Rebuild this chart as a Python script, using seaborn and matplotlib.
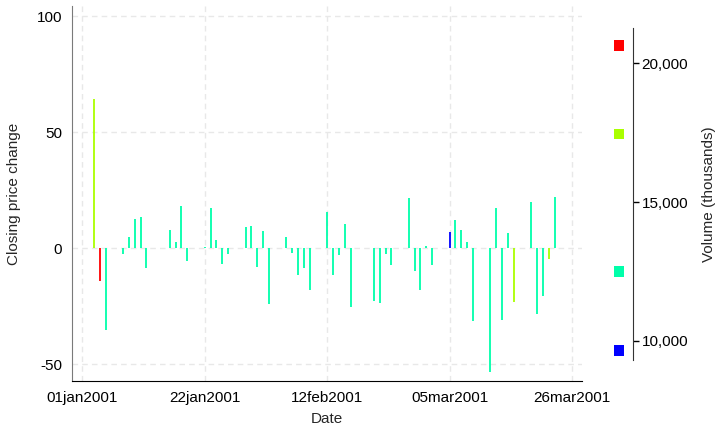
import matplotlib
matplotlib.use("Agg")
import matplotlib.pyplot as plt
import matplotlib.dates as mdates
from matplotlib.ticker import FuncFormatter
import numpy as np
import pandas as pd
import seaborn as sns

# ------------------------------------------------------------------
# data
# ------------------------------------------------------------------
dates = [
    "2001-01-03", "2001-01-04", "2001-01-05", "2001-01-08", "2001-01-09",
    "2001-01-10", "2001-01-11", "2001-01-12", "2001-01-16", "2001-01-17",
    "2001-01-18", "2001-01-19", "2001-01-22", "2001-01-23", "2001-01-24",
    "2001-01-25", "2001-01-26", "2001-01-29", "2001-01-30", "2001-01-31",
    "2001-02-01", "2001-02-02", "2001-02-05", "2001-02-06", "2001-02-07",
    "2001-02-08", "2001-02-09", "2001-02-12", "2001-02-13", "2001-02-14",
    "2001-02-15", "2001-02-16", "2001-02-20", "2001-02-21", "2001-02-22",
    "2001-02-23", "2001-02-26", "2001-02-27", "2001-02-28",
    "2001-03-01", "2001-03-02", "2001-03-05", "2001-03-06", "2001-03-07",
    "2001-03-08", "2001-03-09", "2001-03-12", "2001-03-13", "2001-03-14",
    "2001-03-15", "2001-03-16", "2001-03-19", "2001-03-20", "2001-03-21",
    "2001-03-22", "2001-03-23",
]
change = [
    64.3, -14.2, -35.0, -2.5, 4.9, 12.5, 13.5, -8.3, 7.9, 2.7,
    18.4, -5.5, 0.4, 17.4, 3.7, -6.9, -2.6, 9.2, 9.5, -7.9,
    7.5, -24.1, 4.7, -2.2, -11.5, -8.3, -17.9, 15.5, -11.5, -3.0,
    10.5, -25.1, -22.7, -23.7, -2.4, -7.2, 21.5, -9.8, -18.1,
    1.0, -7.2, 7.0, 12.2, 7.9, 2.7, -31.3, -53.1, 17.4, -31.0,
    6.6, -23.0, 20.1, -28.1, -20.4, -4.5, 22.0,
]
# volume (thousands), binned to the four legend levels
vol_levels = [9640, 12490, 17450, 20630]
vol_colors = ["#0000FF", "#00FFAA", "#AAFF00", "#FF0000"]
volume = [12490] * len(dates)
volume[0] = 17450    # 03jan
volume[1] = 20630    # 04jan
volume[41] = 9640    # 05mar
volume[50] = 17450   # 16mar
volume[54] = 17450   # 22mar

tick_dates = ["2001-01-01", "2001-01-22", "2001-02-12", "2001-03-05", "2001-03-26"]
y_ticks = [-50, 0, 50, 100]
vol_ticks = [10000, 15000, 20000]

df = pd.DataFrame({"date": pd.to_datetime(dates), "change": change, "volume": volume})
palette = dict(zip(vol_levels, vol_colors))
df["color"] = df["volume"].map(palette)
df["dnum"] = mdates.date2num(df["date"])

# ------------------------------------------------------------------
# style
# ------------------------------------------------------------------
sns.set_style("white")
plt.rcParams["font.family"] = ["Liberation Sans", "DejaVu Sans"]
plt.rcParams["font.size"] = 11
plt.rcParams["axes.unicode_minus"] = False

fig = plt.figure(figsize=(7.19, 4.28), dpi=100)
ax = fig.add_axes([72 / 719, 47 / 428, 510 / 719, 375 / 428])

grid_kw = dict(color="#E8E8E8", lw=1.0, ls=(0, (4, 3)), zorder=0)
tnum = mdates.date2num(pd.to_datetime(tick_dates))
for t in tnum:
    ax.axvline(t, **grid_kw)
for y in y_ticks:
    ax.axhline(y, **grid_kw)

ax.vlines(df["dnum"], 0, df["change"], colors=df["color"], lw=1.3, zorder=3)

start = mdates.date2num(pd.Timestamp("2001-01-01"))
ax.set_xlim(start - 1.77, start + 85.7)
ax.set_ylim(-57.15, 104.35)
ax.set_xticks(tnum)
ax.xaxis.set_major_formatter(
    FuncFormatter(lambda x, _: mdates.num2date(x).strftime("%d%b%Y").lower()))
ax.set_yticks(y_ticks)

for s in ["top", "right"]:
    ax.spines[s].set_visible(False)
ax.spines["left"].set_color("#7a7a7a")
ax.spines["bottom"].set_color("black")
ax.tick_params(axis="both", length=4, width=1, colors="black", labelsize=11, pad=3)
ax.tick_params(axis="y", color="#7a7a7a")
ax.set_xlabel("Date", labelpad=5)
ax.set_ylabel("Closing price change", labelpad=11)

# ------------------------------------------------------------------
# colour legend for volume
# ------------------------------------------------------------------
ax2 = fig.add_axes([600 / 719, 68 / 428, 33.3 / 719, 331.7 / 428])
leg = pd.DataFrame({"x": [0.57] * len(vol_levels), "volume": vol_levels})
sns.scatterplot(data=leg, x="x", y="volume", hue="volume", palette=palette,
                marker="s", s=60, linewidth=0, legend=False, ax=ax2)
ax2.set_xlim(0, 1)
ax2.set_ylim(9304, 21262)
ax2.set_xticks([])
ax2.set_xlabel("")
for s in ["top", "left", "bottom"]:
    ax2.spines[s].set_visible(False)
ax2.spines["right"].set_color("#333333")
ax2.yaxis.tick_right()
ax2.yaxis.set_label_position("right")
ax2.set_yticks(vol_ticks)
ax2.yaxis.set_major_formatter(FuncFormatter(lambda v, _: f"{int(v):,}"))
ax2.tick_params(axis="y", length=4, width=1, colors="black", labelsize=11, pad=2)
ax2.set_ylabel("Volume (thousands)", labelpad=10)

fig.savefig("out.png", dpi=100)
